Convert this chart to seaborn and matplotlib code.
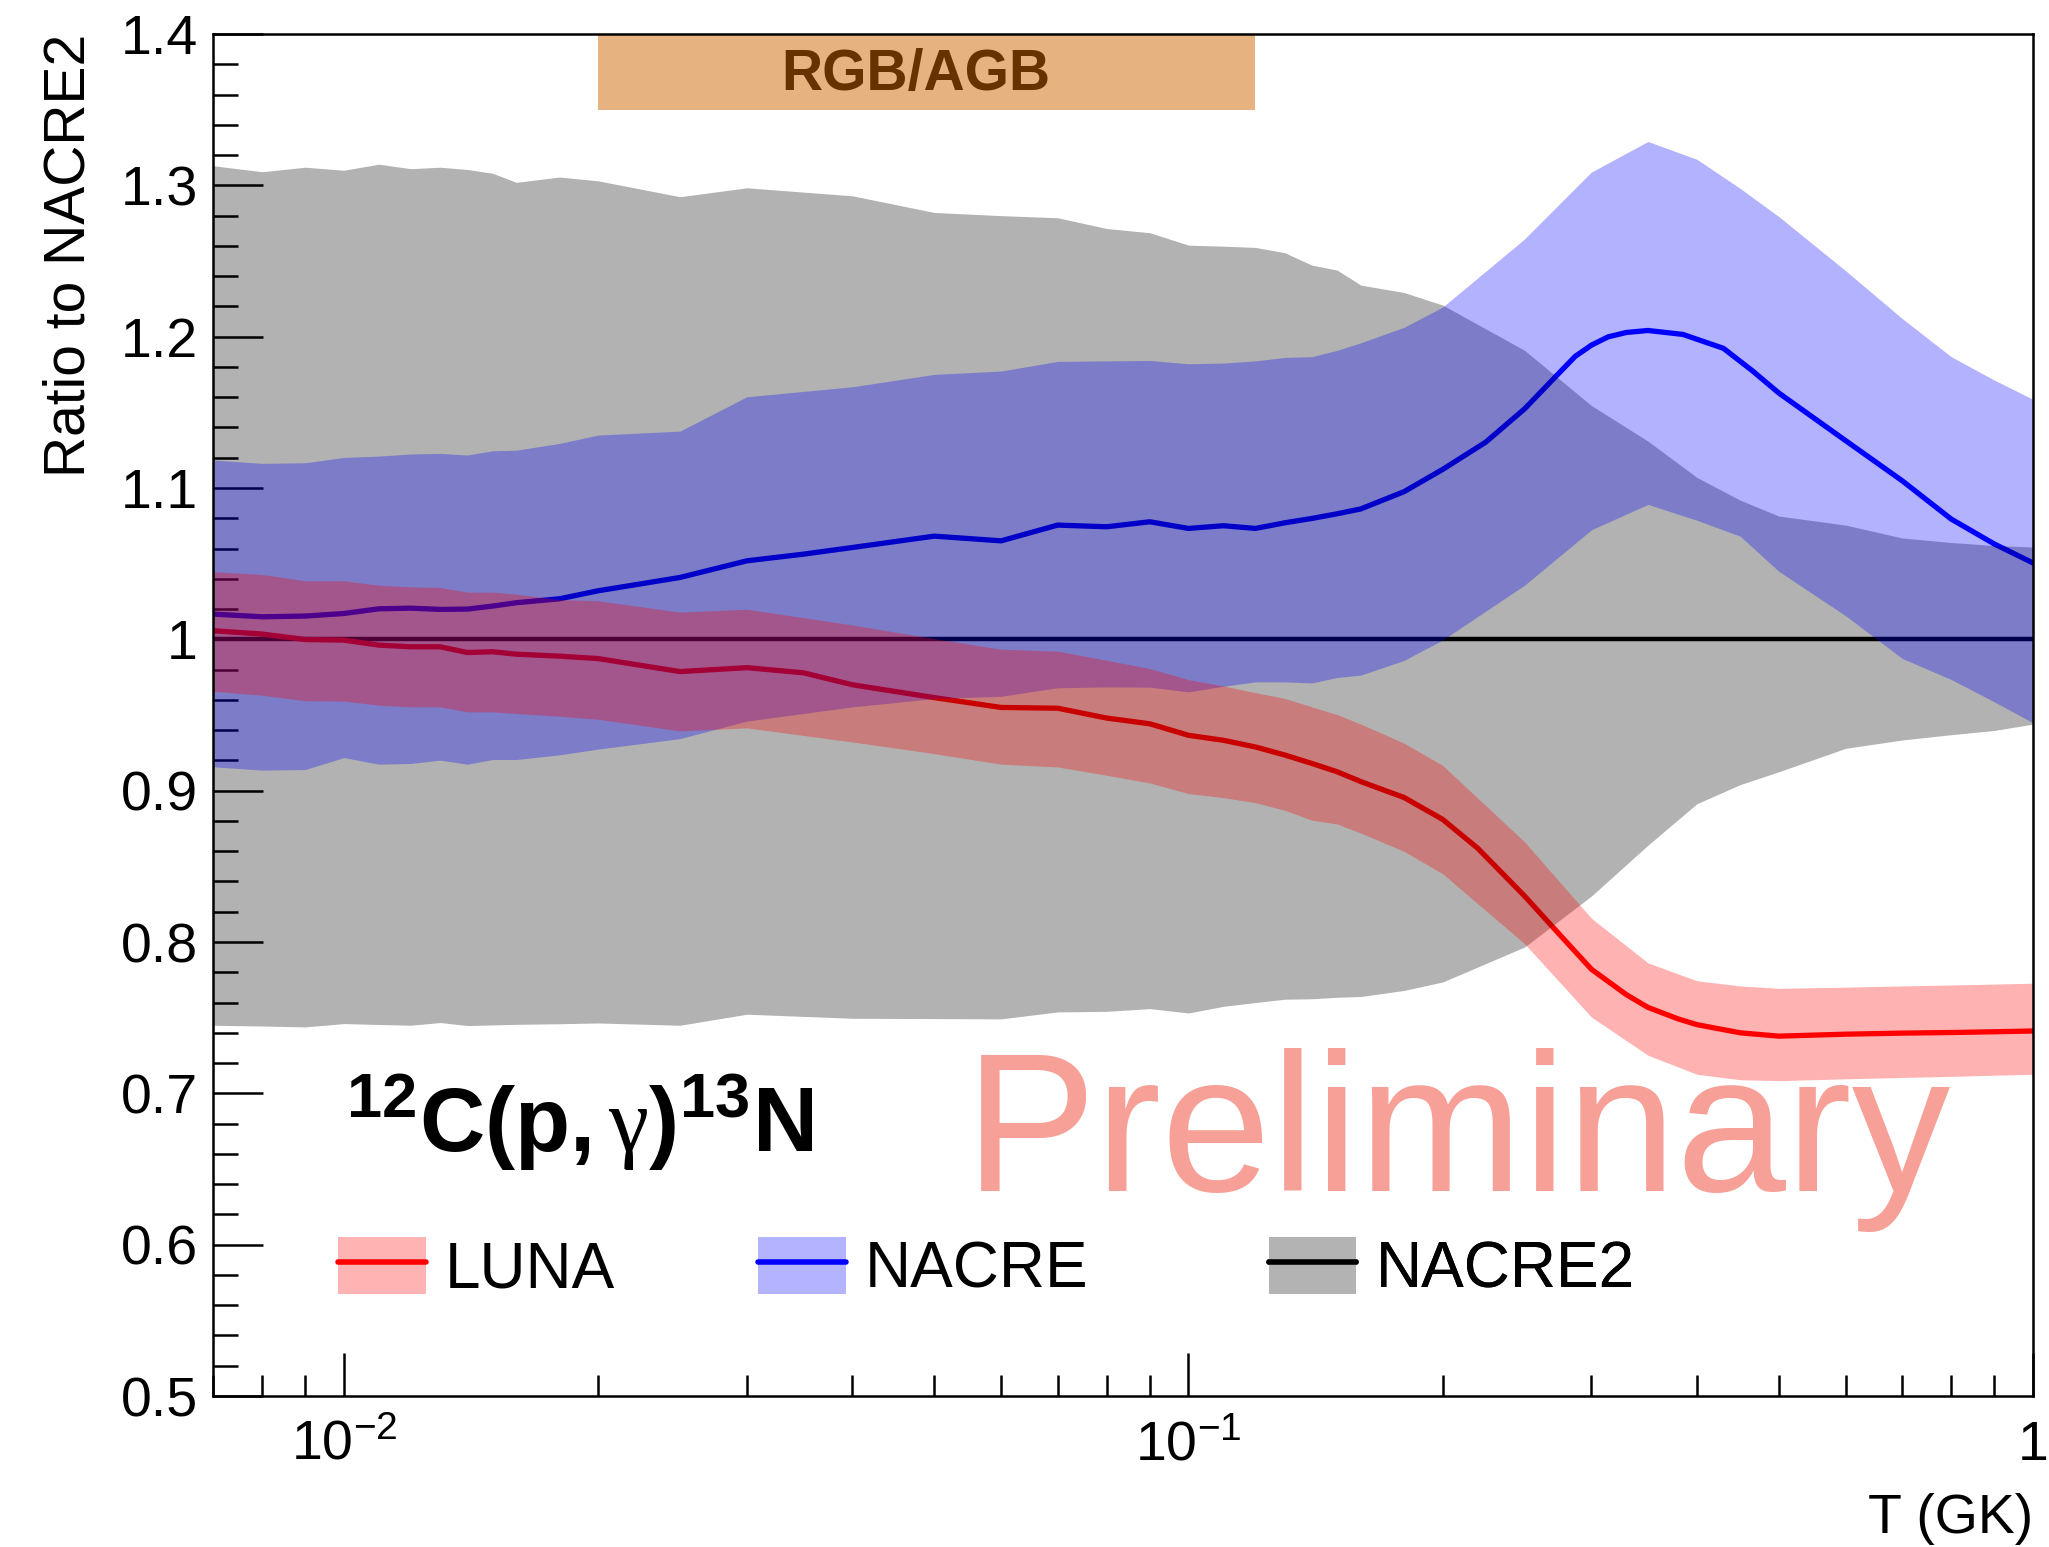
import numpy as np
import pandas as pd
import matplotlib
matplotlib.use("Agg")
import matplotlib.pyplot as plt
import seaborn as sns
from matplotlib.patches import Patch
from matplotlib.lines import Line2D
from matplotlib.legend_handler import HandlerTuple
from matplotlib.ticker import MultipleLocator, NullFormatter, FixedLocator, LogLocator

# ---------------------------------------------------------------- data
# temperature grid of the rate tables (GK)
t_grid = [0.007, 0.008, 0.009, 0.010, 0.011, 0.012, 0.013, 0.014, 0.015, 0.016,
          0.018, 0.020, 0.025, 0.030, 0.040, 0.050, 0.060, 0.070, 0.080, 0.090,
          0.100, 0.110, 0.120, 0.130, 0.140, 0.150, 0.160, 0.180, 0.200, 0.250,
          0.300, 0.350, 0.400, 0.450, 0.500, 0.600, 0.700, 0.800, 0.900, 1.000]

# NACRE2 uncertainty band (ratio to NACRE2 recommended rate)
nacre2_hi = [1.313, 1.309, 1.312, 1.310, 1.314, 1.311, 1.312, 1.3105, 1.308, 1.302,
             1.3055, 1.303, 1.2925, 1.2984, 1.2931, 1.2821, 1.2800, 1.2786, 1.2715, 1.2687,
             1.2605, 1.2598, 1.259, 1.2555, 1.2473, 1.244, 1.2341, 1.2292, 1.2209, 1.191,
             1.1545, 1.131, 1.107, 1.092, 1.0815, 1.0755, 1.067, 1.064, 1.062, 1.061]
nacre2_lo = [0.745, 0.7445, 0.7439, 0.7461, 0.7455, 0.745, 0.7468, 0.7448, 0.7452, 0.7456,
             0.746, 0.7465, 0.745, 0.7523, 0.7496, 0.7494, 0.7492, 0.7538, 0.7542, 0.756,
             0.7531, 0.7575, 0.760, 0.7622, 0.7625, 0.7635, 0.764, 0.768, 0.7736, 0.7967,
             0.8304, 0.864, 0.8914, 0.904, 0.9125, 0.928, 0.9335, 0.937, 0.9398, 0.944]

# NACRE uncertainty band
nacre_hi = [1.1185, 1.1163, 1.1167, 1.1202, 1.1211, 1.1225, 1.1229, 1.1218, 1.1246, 1.125,
            1.1295, 1.135, 1.1376, 1.1603, 1.1669, 1.1751, 1.1773, 1.1837, 1.184, 1.1843,
            1.1821, 1.1826, 1.184, 1.1863, 1.1868, 1.191, 1.196, 1.2062, 1.2196, 1.2646,
            1.3088, 1.329, 1.3172, 1.298, 1.2794, 1.2436, 1.212, 1.1868, 1.1713, 1.1586]
nacre_lo = [0.9158, 0.9136, 0.914, 0.9219, 0.9175, 0.918, 0.9202, 0.9175, 0.9206, 0.9206,
            0.9237, 0.9275, 0.9344, 0.946, 0.9554, 0.9609, 0.9624, 0.968, 0.9686, 0.9684,
            0.9653, 0.969, 0.9719, 0.9719, 0.9712, 0.9748, 0.9764, 0.9861, 0.9996, 1.0358,
            1.0724, 1.0892, 1.0787, 1.0682, 1.045, 1.0156, 0.9874, 0.9735, 0.9587, 0.9449]

# LUNA uncertainty band
luna_hi = [1.0447, 1.0429, 1.0387, 1.0387, 1.0358, 1.0347, 1.0343, 1.0312, 1.0312, 1.0299,
           1.0263, 1.0255, 1.018, 1.0199, 1.0095, 1.0005, 0.9935, 0.9922, 0.9862, 0.9807,
           0.9734, 0.9692, 0.9648, 0.961, 0.9554, 0.9503, 0.944, 0.9314, 0.9167, 0.8662,
           0.8157, 0.7862, 0.7744, 0.771, 0.7694, 0.7702, 0.771, 0.7716, 0.7722, 0.7728]
luna_lo = [0.9657, 0.9631, 0.9594, 0.9592, 0.9565, 0.9554, 0.9554, 0.9521, 0.9521, 0.951,
           0.9492, 0.9472, 0.9395, 0.9415, 0.9322, 0.9245, 0.9175, 0.9157, 0.9102, 0.9051,
           0.8981, 0.8954, 0.8921, 0.8871, 0.8805, 0.878, 0.872, 0.8599, 0.8451, 0.7989,
           0.7504, 0.7252, 0.7126, 0.709, 0.7084, 0.7096, 0.7105, 0.7112, 0.712, 0.7126]

# recommended-rate ratios
t_luna = [0.007, 0.008, 0.009, 0.010, 0.011, 0.012, 0.013, 0.014, 0.015, 0.016,
          0.018, 0.020, 0.025, 0.030, 0.035, 0.040, 0.050, 0.060, 0.070, 0.080,
          0.090, 0.100, 0.110, 0.120, 0.130, 0.140, 0.150, 0.160, 0.180, 0.200,
          0.220, 0.250, 0.275, 0.300, 0.330, 0.350, 0.380, 0.400, 0.450, 0.500,
          0.600, 0.700, 0.800, 0.900, 1.000]
luna_ratio = [1.0057, 1.0035, 0.9999, 0.9995, 0.9962, 0.9951, 0.9951, 0.9913, 0.9918, 0.9902,
              0.9889, 0.9873, 0.9787, 0.9813, 0.9779, 0.970, 0.9615, 0.9550, 0.9545, 0.9480,
              0.9442, 0.9366, 0.9333, 0.9289, 0.9236, 0.918, 0.9125, 0.906, 0.8955, 0.881,
              0.862, 0.8304, 0.805, 0.782, 0.7652, 0.7568, 0.7492, 0.7454, 0.740, 0.7378,
              0.7391, 0.7398, 0.7402, 0.7407, 0.7412]

t_nacre = [0.007, 0.008, 0.009, 0.010, 0.011, 0.012, 0.013, 0.014, 0.015, 0.016,
           0.018, 0.020, 0.025, 0.030, 0.035, 0.040, 0.050, 0.060, 0.070, 0.080,
           0.090, 0.100, 0.110, 0.120, 0.130, 0.140, 0.150, 0.160, 0.180, 0.200,
           0.225, 0.250, 0.275, 0.287, 0.300, 0.314, 0.330, 0.350, 0.385, 0.430,
           0.465, 0.500, 0.600, 0.700, 0.800, 0.900, 1.000]
nacre_ratio = [1.0167, 1.0149, 1.0154, 1.0171, 1.0202, 1.0206, 1.0198, 1.0200, 1.0220, 1.0242,
               1.0268, 1.0321, 1.0409, 1.0519, 1.0563, 1.0607, 1.0682, 1.0651, 1.0755, 1.0744,
               1.0777, 1.0733, 1.0751, 1.0733, 1.0770, 1.0799, 1.0830, 1.0862, 1.0976, 1.1123,
               1.1304, 1.1523, 1.1763, 1.1870, 1.1944, 1.1999, 1.2028, 1.2041, 1.2015, 1.1923,
               1.1776, 1.1628, 1.1313, 1.1048, 1.0795, 1.0630, 1.0505]

nacre2_ratio = 1.0

# temperature range relevant for RGB/AGB burning
rgb_agb_t = [0.02, 0.12]
rgb_agb_y = (1.35, 1.40)

y_ticks = [0.5, 0.6, 0.7, 0.8, 0.9, 1.0, 1.1, 1.2, 1.3, 1.4]
y_tick_labels = ["0.5", "0.6", "0.7", "0.8", "0.9", "1", "1.1", "1.2", "1.3", "1.4"]
x_ticks = [0.01, 0.1, 1.0]
x_tick_labels = [r"$10^{-2}$", r"$10^{-1}$", "1"]

# ---------------------------------------------------------------- style
sns.set_style("ticks")
plt.rcParams["font.family"] = ["Liberation Sans", "DejaVu Sans"]
plt.rcParams["mathtext.fontset"] = "custom"
plt.rcParams["mathtext.rm"] = "Liberation Sans"
plt.rcParams["mathtext.bf"] = "Liberation Sans:bold"
plt.rcParams["mathtext.it"] = "Liberation Serif"
plt.rcParams["mathtext.default"] = "regular"
for key in ["text.color", "axes.labelcolor", "xtick.color", "ytick.color", "axes.edgecolor"]:
    plt.rcParams[key] = "black"

fig = plt.figure(figsize=(20.49, 15.47), dpi=100)
ax = fig.add_axes([0.1040, 0.0976, 0.8882, 0.8804])

# central values are drawn first, the translucent bands sit on top of them
ax.axhline(nacre2_ratio, color="black", lw=3.2, zorder=1.0)
sns.lineplot(x=t_nacre, y=nacre_ratio, ax=ax, color="blue", lw=3.8, zorder=1.1)
sns.lineplot(x=t_luna, y=luna_ratio, ax=ax, color="red", lw=3.8, zorder=1.2)

ax.fill_between(t_grid, nacre2_lo, nacre2_hi, color="black", alpha=0.3, lw=0, zorder=2.0)
ax.fill_between(t_grid, nacre_lo, nacre_hi, color="blue", alpha=0.3, lw=0, zorder=2.1)
ax.fill_between(t_grid, luna_lo, luna_hi, color="red", alpha=0.3, lw=0, zorder=2.2)

# RGB/AGB temperature window
ax.fill_between(rgb_agb_t, rgb_agb_y[0], rgb_agb_y[1], color="#e6b280", lw=0, zorder=3)
ax.text(0.0476, 1.363, "RGB/AGB", fontsize=41,
        fontweight="bold", color="#663300", ha="center", va="baseline", zorder=4)

# axes
ax.set_xscale("log")
ax.set_xlim(0.007, 1.0)
ax.set_ylim(0.5, 1.4)
ax.xaxis.set_major_locator(FixedLocator(x_ticks))
ax.set_xticklabels(x_tick_labels)
ax.xaxis.set_minor_locator(LogLocator(base=10, subs=np.arange(2, 10)))
ax.xaxis.set_minor_formatter(NullFormatter())
ax.set_yticks(y_ticks)
ax.set_yticklabels(y_tick_labels)
ax.yaxis.set_minor_locator(MultipleLocator(0.02))

ax.tick_params(axis="both", which="both", direction="in", top=False, right=False,
               width=1.8, labelsize=40, colors="black")
ax.tick_params(axis="y", which="major", length=36, pad=11)
ax.tick_params(axis="y", which="minor", length=18)
ax.tick_params(axis="x", which="major", length=31, pad=17)
ax.tick_params(axis="x", which="minor", length=15)
for side in ax.spines.values():
    side.set_visible(True)
    side.set_linewidth(1.8)
    side.set_color("black")
    side.set_zorder(5)

ax.set_ylabel("Ratio to NACRE2", fontsize=41, loc="top")
ax.yaxis.set_label_coords(-0.064, 1.0)
ax.set_xlabel("T (GK)", fontsize=40, loc="right")
ax.xaxis.set_label_coords(1.0, -0.071)

# reaction label and watermark
ax.text(0.073, 0.179, r"$^{\mathbf{12}}\mathbf{C(p,}\mathit{\gamma}\mathbf{)}^{\mathbf{13}}\mathbf{N}$",
        transform=ax.transAxes, fontsize=65, ha="left", va="baseline", zorder=6)
ax.text(0.413, 0.1507, "Preliminary", transform=ax.transAxes, fontsize=142,
        color="#f7a098", ha="left", va="baseline", zorder=6)

# legend: one entry per column
entries = [("LUNA", "#ffb3b3", "red", 0.0687),
           ("NACRE", "#b3b3ff", "blue", 0.2995),
           ("NACRE2", "#b3b3b3", "black", 0.5800)]
for label, face, line_col, x_anchor in entries:
    handle = (Patch(facecolor=face, edgecolor="none"),
              Line2D([], [], color=line_col, lw=4.0))
    leg = ax.legend([handle], [label], handler_map={tuple: HandlerTuple()},
                    loc="center left", bbox_to_anchor=(x_anchor, 0.0934),
                    frameon=False, fontsize=46, handlelength=1.375, handleheight=0.98,
                    handletextpad=0.3, borderpad=0, borderaxespad=0)
    leg.set_zorder(6)
    ax.add_artist(leg)

fig.savefig("out.png", dpi=100)
